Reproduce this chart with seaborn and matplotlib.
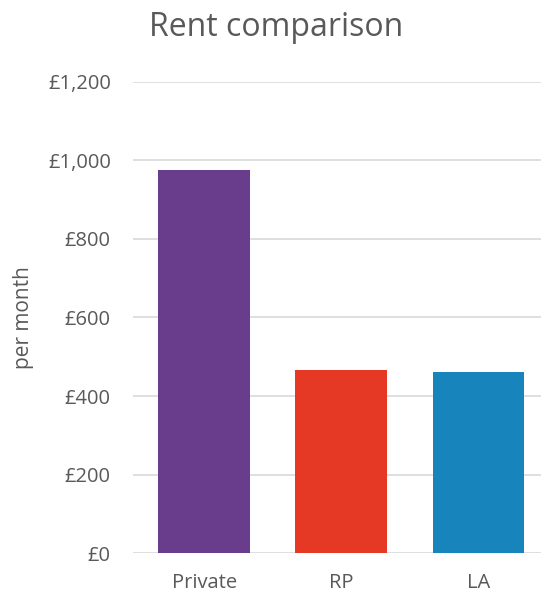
import pandas as pd
import matplotlib.pyplot as plt
import seaborn as sns
from matplotlib.ticker import FuncFormatter

categories = ["Private", "RP", "LA"]
rent = [975, 466, 461]
colors = ["#6A3D8C", "#E53825", "#1785BB"]
y_ticks = [0, 200, 400, 600, 800, 1000, 1200]

df = pd.DataFrame({"tenure": categories, "rent": rent})

sns.set_style("white")
plt.rcParams["font.family"] = ["Open Sans", "DejaVu Sans"]
grey = "#595959"

fig = plt.figure(figsize=(5.41, 5.95), dpi=100)
ax = fig.add_axes([133 / 541, 0.0701, 414 / 541, 0.7926])

sns.barplot(data=df, x="tenure", y="rent", hue="tenure", palette=colors,
            width=0.67, saturation=1, linewidth=0, legend=False, ax=ax, zorder=3)

ax.set_xlim(-0.52, 2.5)
ax.set_ylim(0, 1200)
ax.set_yticks(y_ticks)
ax.yaxis.set_major_formatter(FuncFormatter(lambda v, p: f"£{v:,.0f}"))
ax.grid(axis="y", color="#d9d9d9", linewidth=1.2, zorder=0)
ax.set_axisbelow(True)
for s in ["top", "right", "left", "bottom"]:
    ax.spines[s].set_visible(False)
ax.tick_params(axis="both", length=0, labelsize=14.5, labelcolor=grey)
ax.tick_params(axis="x", pad=14)
ax.tick_params(axis="y", pad=16)
ax.set_xlabel("")
ax.set_ylabel("per month", fontsize=15, color=grey, labelpad=10)

fig.text(276 / 541, 1 - 28 / 595, "Rent comparison", ha="center", va="center",
         fontsize=23, color=grey)

fig.savefig("out.png", dpi=100)
plt.close(fig)
